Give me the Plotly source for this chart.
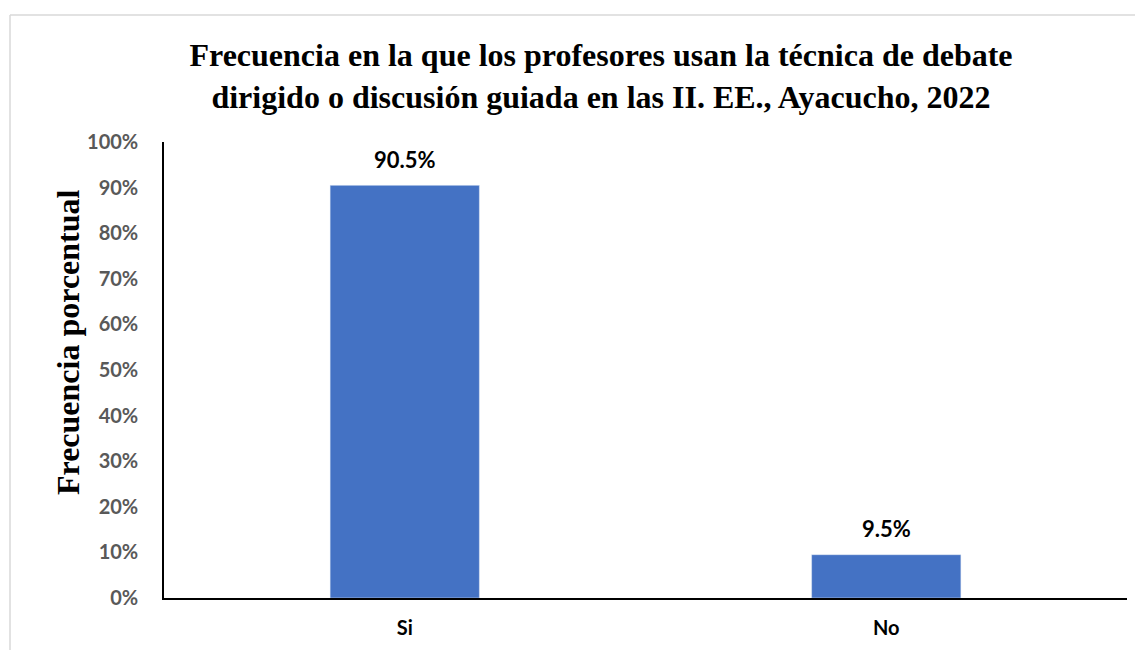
import plotly.graph_objects as go

categories = ["Si", "No"]
values = [90.5, 9.5]
labels = ["90.5%", "9.5%"]
y_ticks = [0, 10, 20, 30, 40, 50, 60, 70, 80, 90, 100]
y_tick_text = [f"{v}%" for v in y_ticks]

OFF = 8  # browser default body margin
W, H = 1143 - OFF, 650 - OFF
L, R, T, B = 164 - OFF, 16, 142 - OFF, 52
pw, ph = W - L - R, H - T - B

def px_x(x):
    return (x - OFF - L) / pw

def px_y(y):
    return (H - B - (y - OFF)) / ph

sans = "Lato, Open Sans, sans-serif"
serif = "Liberation Serif, Times New Roman, serif"

fig = go.Figure(go.Bar(
    x=categories, y=values, marker_color="#4472C4",
))

annotations = [
    dict(x=c, y=v, text=t, xref="x", yref="y", showarrow=False,
         yanchor="middle", yshift=26,
         font=dict(family=sans, size=22, color="black", weight="bold"))
    for c, v, t in zip(categories, values, labels)
]
annotations.append(dict(
    text="<b>Frecuencia porcentual</b>", textangle=-90,
    xref="paper", yref="paper", x=px_x(68), y=px_y(342),
    xanchor="center", yanchor="middle", showarrow=False,
    font=dict(family=serif, size=32, color="black"),
))

fig.update_layout(
    width=W, height=H,
    margin=dict(l=L, r=R, t=T, b=B),
    paper_bgcolor="white", plot_bgcolor="white",
    bargap=0.69,
    showlegend=False,
    title=dict(
        text="<b>Frecuencia en la que los profesores usan la técnica de debate<br>dirigido o discusión guiada en las II. EE., Ayacucho, 2022</b>",
        x=(601 - OFF) / W, xanchor="center", y=1 - (66 - OFF) / H, yanchor="middle",
        font=dict(family=serif, size=32, color="black"),
    ),
    xaxis=dict(
        showline=True, linecolor="black", linewidth=1.5,
        showgrid=False, ticks="",
        tickfont=dict(family=sans, size=20, color="black", weight="bold"),
        ticklabelstandoff=11,
    ),
    yaxis=dict(
        range=[0, 100], tickvals=y_ticks, ticktext=y_tick_text,
        showline=True, linecolor="black", linewidth=1.5,
        showgrid=False, ticks="", zeroline=False,
        tickfont=dict(family=sans, size=20, color="#595959", weight="bold"),
        ticklabelstandoff=20,
    ),
    annotations=annotations,
    shapes=[
        dict(type="line", xref="paper", yref="paper", x0=px_x(10), x1=px_x(1143), y0=px_y(15), y1=px_y(15),
             line=dict(color="#d9d9d9", width=1.5)),
        dict(type="line", xref="paper", yref="paper", x0=px_x(10), x1=px_x(10), y0=px_y(15), y1=px_y(650),
             line=dict(color="#d9d9d9", width=1.5)),
    ],
)

fig.write_html("out.html")
